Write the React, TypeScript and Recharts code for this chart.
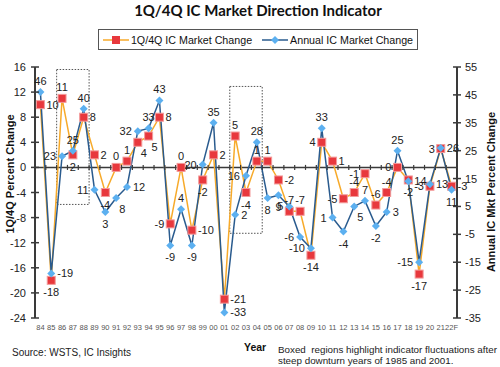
import React from "react";
import {
  ComposedChart,
  Line,
  XAxis,
  YAxis,
  ReferenceLine,
  ReferenceArea,
  Scatter,
  Legend,
  LabelList,
} from "recharts";

document.body.style.margin = "0";

const years = [
  "84", "85", "86", "87", "88", "89", "90", "91", "92", "93", "94", "95", "96", "97", "98", "99",
  "00", "01", "02", "03", "04", "05", "06", "07", "08", "09",
  "10", "11", "12", "13", "14", "15", "16", "17", "18", "19",
  "20", "21", "22F",
];
const q1q4Change = [
  10, -18, 11, 2, 8, 2, -4, 0, 1, 4, 5, 8, -9, 0, -10, -2,
  2, -21, 5, -4, 1, 1, -2, -7, -7, -14,
  4, 1, -5, -4, -1, -6, -4, 0, -2, -17,
  -3, 3, -3,
];
const annualChange = [
  46, -19, 23, 25, 40, 11, 3, 8, 12, 32, 33, 43, -9, 4, -9, 20,
  35, -33, 2, 16, 28, 8, 9, 5, -6, -10,
  33, 1, -4, 5, 7, -2, 3, 25, 14, -15,
  13, 26, 11,
];
const leftTicks = [-24, -20, -16, -12, -8, -4, 0, 4, 8, 12, 16];
const rightTicks = [-35, -25, -15, -5, 5, 15, 25, 35, 45, 55];

// which side of the point each value label sits on
const q1q4Sides = [
  "r", "b", "t", "b", "r", "r", "b", "t", "t", "br", "br", "r", "l", "t", "r", "b",
  "r", "r", "t", "b", "t", "t", "r", "t", "t", "b",
  "l", "r", "l", "t", "l", "t", "t", "l", "b", "b",
  "l", "l", "r",
];
const annualSides = [
  "t", "r", "l", "t", "t", "l", "b", "br", "r", "l", "t", "t", "b", "t", "b", "l",
  "t", "r", "r", "l", "t", "b", "b", "l", "l", "l",
  "t", "l", "b", "br", "t", "b", "r", "t", "r", "l",
  "r", "r", "b",
];

// dotted boxes after 1985 and 2001 (x in category index, y in left axis units)
const boxes = [
  { x1: 1.5, x2: 4.5, y1: -5.9, y2: 15.6 },
  { x1: 17.5, x2: 20.5, y1: -10.5, y2: 12.9 },
];

const FONT = "'Liberation Sans', Arial, sans-serif";
const ORANGE = "#f7aa2a";
const RED = "#e8383d";
const NAVY = "#2a5b8e";
const SKY = "#5cb0f0";
const AXIS = "#3a3a3a";

const data = years.map((year, i) => ({
  i,
  year,
  q: q1q4Change[i],
  a: annualChange[i],
}));

const zeroTicks = Array.from({ length: years.length + 1 }, (_, k) => ({ i: k - 0.5, z: 0 }));

const sideLabel = (sides: string[]) => (props: any) => {
  const x = props.x ?? props.viewBox?.x;
  const y = props.y ?? props.viewBox?.y;
  if (x == null || y == null) return null;
  const side = sides[props.index];
  let dx = 0;
  let dy = 0;
  let anchor = "middle";
  if (side === "l") {
    dx = -6;
    dy = 4;
    anchor = "end";
  } else if (side === "r") {
    dx = 6;
    dy = 4;
    anchor = "start";
  } else if (side === "t") {
    dy = -7;
  } else if (side === "b") {
    dy = 16;
  } else if (side === "br") {
    dx = 3;
    dy = 15;
    anchor = "start";
  }
  return (
    <text x={x + dx} y={y + dy} textAnchor={anchor} fontSize={11} fontFamily={FONT} fill="#222">
      {props.value}
    </text>
  );
};

const RedSquare = (props: any) => {
  const { cx, cy, index } = props;
  if (cx == null || cy == null) return null;
  return (
    <rect key={`sq-${index}`} x={cx - 4} y={cy - 4} width={8} height={8} fill={RED} stroke="#f39a9a" strokeWidth={1} />
  );
};

const Diamond = (props: any) => {
  const { cx, cy, index } = props;
  if (cx == null || cy == null) return null;
  return (
    <polygon
      key={`dm-${index}`}
      points={`${cx},${cy - 4} ${cx + 4},${cy} ${cx},${cy + 4} ${cx - 4},${cy}`}
      fill={SKY}
    />
  );
};

const LeftTick = (props: any) => {
  const { x, y, payload } = props;
  return (
    <g>
      <line x1={x + 5} x2={x + 13} y1={y} y2={y} stroke={AXIS} strokeWidth={1.5} />
      <text x={x} y={y + 4} textAnchor="end" fontSize={11} fontFamily={FONT} fill="#222">
        {payload.value}
      </text>
    </g>
  );
};

const RightTick = (props: any) => {
  const { x, y, payload } = props;
  return (
    <g>
      <line x1={x - 12} x2={x - 4} y1={y} y2={y} stroke={AXIS} strokeWidth={1.5} />
      <text x={x} y={y + 4} textAnchor="start" fontSize={11} fontFamily={FONT} fill="#222">
        {payload.value}
      </text>
    </g>
  );
};

const LegendBox = () => (
  <div
    style={{
      border: "1.5px solid #555",
      height: 21,
      boxSizing: "border-box",
      display: "flex",
      alignItems: "center",
      justifyContent: "center",
      gap: 10,
      fontSize: 10.7,
      fontFamily: FONT,
      color: "#111",
      background: "#fff",
    }}
  >
    <span style={{ display: "flex", alignItems: "center", gap: 2 }}>
      <svg width={26} height={10}>
        <line x1={0} x2={26} y1={5} y2={5} stroke={ORANGE} strokeWidth={1.5} />
        <rect x={9} y={1} width={8} height={8} fill={RED} />
      </svg>
      1Q/4Q IC Market Change
    </span>
    <span style={{ display: "flex", alignItems: "center", gap: 2 }}>
      <svg width={26} height={10}>
        <line x1={0} x2={26} y1={5} y2={5} stroke={NAVY} strokeWidth={1.5} />
        <polygon points="13,1 17,5 13,9 9,5" fill={SKY} />
      </svg>
      Annual IC Market Change
    </span>
  </div>
);

export default function App() {
  return (
    <div style={{ position: "relative", width: 500, height: 367, background: "#fff", fontFamily: FONT }}>
      <div
        style={{
          position: "absolute",
          top: 1,
          left: 8,
          width: 500,
          textAlign: "center",
          fontFamily: "Lato, 'Open Sans', sans-serif",
          fontWeight: 700,
          fontSize: 15,
          color: "#111",
        }}
      >
        1Q/4Q IC Market Direction Indicator
      </div>

      <ComposedChart width={500} height={367} data={data} margin={{ top: 67, right: 10, bottom: 29, left: 8 }}>
        <XAxis
          dataKey="i"
          type="number"
          domain={[-0.5, years.length - 0.5]}
          ticks={years.map((_, i) => i)}
          interval={0}
          tickFormatter={(v: number) => years[v]}
          axisLine={false}
          tickLine={false}
          tickSize={0}
          tickMargin={7}
          height={20}
          tick={{ fontSize: 7.5, fill: "#555", fontFamily: FONT }}
        />
        <YAxis
          yAxisId="left"
          domain={[-24, 16]}
          ticks={leftTicks}
          interval={0}
          width={27}
          axisLine={{ stroke: AXIS, strokeWidth: 2 }}
          tickLine={false}
          tickSize={0}
          tickMargin={9}
          tick={<LeftTick />}
        />
        <YAxis
          yAxisId="right"
          orientation="right"
          domain={[-35, 55]}
          ticks={rightTicks}
          interval={0}
          width={33}
          axisLine={{ stroke: AXIS, strokeWidth: 2 }}
          tickLine={false}
          tickSize={0}
          tickMargin={8}
          tick={<RightTick />}
        />
        <Legend
          layout="horizontal"
          verticalAlign="middle"
          align="center"
          content={<LegendBox />}
          wrapperStyle={{ top: 29, left: 98, width: 320, height: 21 }}
        />
        {boxes.map((b, k) => (
          <ReferenceArea
            key={k}
            yAxisId="left"
            x1={b.x1}
            x2={b.x2}
            y1={b.y1}
            y2={b.y2}
            fill="none"
            stroke="#555"
            strokeWidth={1}
            strokeDasharray="1.5 1.5"
          />
        ))}
        <ReferenceLine yAxisId="left" y={0} stroke={AXIS} strokeWidth={1.5} />
        <Scatter
          yAxisId="left"
          data={zeroTicks}
          dataKey="z"
          isAnimationActive={false}
          legendType="none"
          shape={(p: any) => (
            <line x1={p.cx} x2={p.cx} y1={p.cy - 2.5} y2={p.cy + 2.5} stroke={AXIS} strokeWidth={1.2} />
          )}
        />
        <Line
          yAxisId="left"
          dataKey="q"
          stroke={ORANGE}
          strokeWidth={1.5}
          dot={<RedSquare />}
          activeDot={false}
          isAnimationActive={false}
        >
          <LabelList dataKey="q" content={sideLabel(q1q4Sides)} />
        </Line>
        <Line
          yAxisId="right"
          dataKey="a"
          stroke={NAVY}
          strokeWidth={1.5}
          dot={<Diamond />}
          activeDot={false}
          isAnimationActive={false}
        >
          <LabelList dataKey="a" content={sideLabel(annualSides)} />
        </Line>
      </ComposedChart>

      <div
        style={{
          position: "absolute",
          left: 10,
          top: 174,
          transform: "translate(-50%, -50%) rotate(-90deg)",
          whiteSpace: "nowrap",
          fontSize: 11,
          fontWeight: 700,
          color: "#111",
        }}
      >
        1Q/4Q Percent Change
      </div>
      <div
        style={{
          position: "absolute",
          left: 491,
          top: 192,
          transform: "translate(-50%, -50%) rotate(-90deg)",
          whiteSpace: "nowrap",
          fontSize: 11,
          fontWeight: 700,
          color: "#111",
        }}
      >
        Annual IC Mkt Percent Change
      </div>

      <div style={{ position: "absolute", left: 12, top: 347, fontSize: 10, color: "#222", whiteSpace: "nowrap" }}>
        Source: WSTS, IC Insights
      </div>
      <div style={{ position: "absolute", left: 244, top: 341, fontSize: 10.5, fontWeight: 700, color: "#111" }}>
        Year
      </div>
      <div
        style={{
          position: "absolute",
          left: 278,
          top: 344,
          fontSize: 9.8,
          lineHeight: "11px",
          color: "#222",
          whiteSpace: "nowrap",
        }}
      >
        Boxed&nbsp; regions highlight indicator fluctuations after
        <br />
        steep downturn years of 1985 and 2001.
      </div>
    </div>
  );
}
